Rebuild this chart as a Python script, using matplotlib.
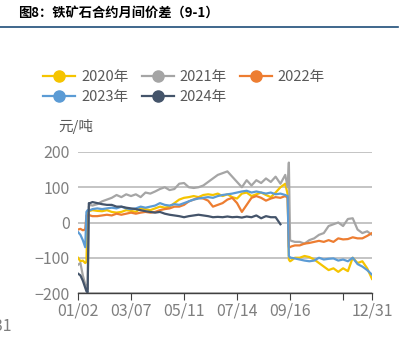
import numpy as np
import matplotlib
matplotlib.use("Agg")
import matplotlib.pyplot as plt
from matplotlib.lines import Line2D

plt.rcParams['font.family'] = ['Noto Sans CJK SC', 'DejaVu Sans']

# trading-day index of each sample
days = ([0, 2, 4, 6, 7, 8, 9, 10] + list(range(12, 173, 4)) + [174, 175, 176, 177]
        + list(range(180, 245, 4)))

s2020 = [-100, -110, -108, -115, -112, 30, 33, 33,
         35, 33, 32, 35, 30, 28, 30, 35, 33, 30, 40, 38, 35, 40, 45, 42, 45, 55, 65, 70,
         72, 75, 72, 78, 80, 78, 82, 75, 80, 72, 68, 82, 85, 75, 80, 85, 78, 72, 85, 100, 110,
         80, -105, -110, -108,
         -100, -100, -95, -98, -105, -115, -125, -135, -130, -140, -130, -138, -100, -115, -110, -130, -160]
s2021 = [-120, -115, -150, -175, -180, -190, 45, 50,
         48, 52, 60, 65, 70, 78, 72, 80, 75, 80, 72, 85, 82, 88, 95, 100, 92, 95, 110, 112,
         100, 98, 100, 105, 115, 125, 135, 140, 145, 130, 115, 100, 120, 105, 120, 112, 125, 115, 130, 110, 135,
         100, 170, -50, -52,
         -55, -55, -60, -50, -45, -35, -30, -10, -5, 0, -10, 10, 12, -20, -30, -25, -35]
s2022 = [-20, -18, -22, -20, 20, 20, 22, 20,
         18, 18, 20, 22, 20, 25, 22, 25, 28, 25, 28, 30, 28, 30, 35, 38, 40, 45, 45, 50,
         60, 65, 70, 68, 62, 45, 50, 55, 65, 70, 55, 30, 50, 70, 75, 70, 62, 68, 72, 70, 75,
         70, -70, -70, -68,
         -65, -65, -60, -58, -55, -52, -55, -50, -55, -45, -48, -47, -42, -45, -45, -38, -30]
s2023 = [-27, -35, -50, -70, 30, 35, 35, 35,
         38, 40, 38, 40, 42, 40, 45, 40, 38, 40, 45, 42, 45, 48, 55, 50, 48, 52, 50, 55,
         60, 65, 68, 70, 72, 70, 75, 78, 80, 82, 85, 88, 90, 85, 88, 85, 82, 85, 80, 82, 78,
         75, -95, -100, -100,
         -102, -105, -108, -110, -108, -100, -105, -103, -102, -108, -105, -110, -100, -118, -125, -135, -148]
s2024 = [-145, -150, -165, -185, -195, -198, 55, 55,
         58, 55, 52, 50, 50, 45, 45, 42, 40, 38, 35, 32, 30, 28, 30, 25, 22, 20, 18, 15,
         18, 20, 22, 20, 18, 15, 16, 15, 17, 15, 16, 14, 17, 15, 20, 12, 18, 15, 15, -5]

series = [("2020年", s2020, "#F5C400"),
          ("2021年", s2021, "#A5A5A5"),
          ("2022年", s2022, "#ED7D31"),
          ("2023年", s2023, "#5B9BD5"),
          ("2024年", s2024, "#44546A")]

tick_days = [0, 44, 88, 132, 176, 220, 244]
tick_labels = ["01/02", "03/07", "05/11", "07/14", "09/16", "", "12/31"]
yticks = [-200, -100, 0, 100, 200]

W, H = 403, 352
fig = plt.figure(figsize=(W / 100, H / 100), dpi=100)
ax = fig.add_axes([78 / W, (H - 293) / H, (372 - 78) / W, (293 - 152) / H])

for name, vals, col in series:
    ax.plot(days[:len(vals)], vals, color=col, lw=1.6, solid_joinstyle='round')

ax.set_xlim(0, 244)
ax.set_ylim(-200, 200)
ax.set_yticks(yticks)
ax.set_xticks(tick_days)
ax.set_xticklabels(tick_labels)
ax.grid(axis='y', color='#BFBFBF', lw=1.3)
ax.set_axisbelow(True)
for sp in ['top', 'right', 'left']:
    ax.spines[sp].set_visible(False)
ax.spines['bottom'].set_color('#404040')
ax.spines['bottom'].set_linewidth(1.0)
ax.tick_params(axis='x', direction='out', length=5, color='#404040', labelsize=11.5,
               labelcolor='#7F7F7F', pad=2)
ax.tick_params(axis='y', length=0, labelsize=11.5, labelcolor='#7F7F7F', pad=6)

fig.text(76 / W, 1 - 127 / H, "元/吨", ha='center', va='center', fontsize=10.5, color='#595959')

# title and rule
fig.text(18 / W, 1 - 13 / H, "图8：铁矿石合约月间价差（9-1）", ha='left', va='center',
         fontsize=9.5, fontweight='bold', color='#000000')
fig.add_artist(Line2D([0, 398 / W], [1 - 27 / H, 1 - 27 / H], color='#1F4E79', lw=1.2))

# clipped leftover label
fig.text(12 / W, 1 - 326 / H, "12/31", ha='right', va='center', fontsize=11.5, color='#7F7F7F')

# legend filled row by row (matplotlib fills columns, so reorder)
order = [0, 3, 1, 4, 2]
handles = [Line2D([], [], color=series[i][2], lw=1.6, marker='o', markersize=8) for i in order]
labels = [series[i][0] for i in order]
fig.legend(handles, labels, ncol=3, loc='upper left',
           bbox_to_anchor=(30 / W, 1 - 57 / H), frameon=False, fontsize=10.5,
           handlelength=2.2, handletextpad=0.4, columnspacing=0.9, labelspacing=0.4,
           labelcolor='#595959')

fig.savefig("out.png", dpi=100)
